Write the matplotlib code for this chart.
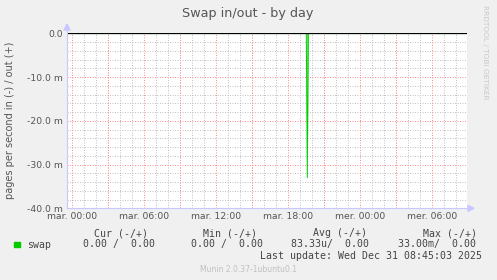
import matplotlib
matplotlib.use('Agg')
import matplotlib.pyplot as plt
import matplotlib.dates as mdates
from matplotlib.lines import Line2D
from matplotlib.patches import Polygon
import pandas as pd

# swap in (drawn negative) samples, pages per second; everything else is 0
sample_times = ['2025-12-30 00:00', '2025-12-30 19:30', '2025-12-30 19:35',
                '2025-12-30 19:40', '2025-12-31 08:45']
swap_in = [0.0, 0.0, 0.033, 0.0, 0.0]
swap_out = [0.0, 0.0, 0.0, 0.0, 0.0]

range_start = '2025-12-29 23:33:30'
range_end = '2025-12-31 08:53:30'

x_tick_times = ['2025-12-30 00:00', '2025-12-30 06:00', '2025-12-30 12:00',
                '2025-12-30 18:00', '2025-12-31 00:00', '2025-12-31 06:00']
x_tick_labels = ['mar. 00:00', 'mar. 06:00', 'mar. 12:00',
                 'mar. 18:00', 'mer. 00:00', 'mer. 06:00']
y_ticks = [0.0, -0.01, -0.02, -0.03, -0.04]
y_tick_labels = ['0.0', '-10.0 m', '-20.0 m', '-30.0 m', '-40.0 m']

legend_headers = ['Cur (-/+)', 'Min (-/+)', 'Avg (-/+)', 'Max (-/+)']
legend_values = ['0.00 /  0.00', '0.00 /  0.00', '83.33u/  0.00', '33.00m/  0.00']

W, H = 497, 280
bg = '#f0f0f0'
txt = '#555555'
mono = 'DejaVu Sans Mono'

fig = plt.figure(figsize=(W / 100, H / 100), dpi=100, facecolor=bg)
# plot area in pixels: x 67..467, y 33.3..208.3
ax = fig.add_axes([67 / W, (H - 208.3) / H, 400 / W, 175 / H])
ax.set_facecolor('white')

t = pd.to_datetime(sample_times)
vals = [-v for v in swap_in]
ax.plot(t, swap_out, color='#00cc00', lw=0.8, zorder=3)
ax.fill_between(t, vals, 0, color='#7ae27a', lw=0, zorder=3)
ax.plot(t, vals, color='#00cc00', lw=0.7, zorder=4)
ax.axhline(0, color='black', lw=0.9, zorder=5)

ax.set_xlim(pd.Timestamp(range_start), pd.Timestamp(range_end))
ax.set_ylim(-0.04, 0)

# grids: minor grey every hour / 2m, major red every 3h / 10m
dots = (0, (1, 1.5))
ax.xaxis.set_minor_locator(mdates.HourLocator(interval=1))
ax.yaxis.set_minor_locator(plt.MultipleLocator(0.002))
ax.grid(which='minor', color='#c2c2c2', lw=0.72, ls=dots)
major_x = pd.date_range('2025-12-30 00:00', '2025-12-31 09:00', freq='3h')
for mx in major_x:
    ax.axvline(mx, color='#ff9090', lw=0.72, ls=dots, zorder=2)
for my in y_ticks:
    ax.axhline(my, color='#ff9090', lw=0.72, ls=dots, zorder=2)

ax.set_xticks(pd.to_datetime(x_tick_times))
ax.set_xticklabels(x_tick_labels)
ax.set_yticks(y_ticks)
ax.set_yticklabels(y_tick_labels)
ax.tick_params(which='both', length=0, labelsize=6.7, labelcolor=txt, pad=3)
for s in ax.spines.values():
    s.set_visible(False)

# axis lines with arrows
axis_col = '#c8c8ff'
fig.add_artist(Line2D([67 / W, 67 / W], [(H - 208.3) / H, (H - 25) / H],
                      color=axis_col, lw=0.8, transform=fig.transFigure))
fig.add_artist(Line2D([67 / W, 471 / W], [(H - 208.3) / H, (H - 208.3) / H],
                      color=axis_col, lw=0.8, transform=fig.transFigure))
fig.add_artist(Polygon([[64 / W, (H - 30) / H], [70 / W, (H - 30) / H], [67 / W, (H - 24) / H]],
                       closed=True, color=axis_col, transform=fig.transFigure))
fig.add_artist(Polygon([[468 / W, (H - 205.3) / H], [468 / W, (H - 211.3) / H], [474 / W, (H - 208.3) / H]],
                       closed=True, color=axis_col, transform=fig.transFigure))

fig.text(248 / W, 1 - 13 / H, 'Swap in/out - by day', ha='center', va='center',
         fontsize=9.2, color=txt)
fig.text(10 / W, 1 - 120 / H, 'pages per second in (-) / out (+)', rotation=90,
         ha='center', va='center', fontsize=7, color=txt)
fig.text(485 / W, 1 - 5 / H, 'RRDTOOL / TOBI OETIKER', rotation=270,
         ha='center', va='top', fontsize=5.3, color='#c8c8c8')

# legend block
head_x = [94, 203, 313, 423]
val_x = [83, 191, 291, 398]
for hx, h in zip(head_x, legend_headers):
    fig.text(hx / W, 1 - 233 / H, h, ha='left', va='center', fontsize=7.1,
             family=mono, color='#444444')
fig.add_artist(plt.Rectangle((14 / W, 1 - 247 / H), 5.5 / W, 5.5 / H,
                             color='#00cc00', transform=fig.transFigure))
fig.text(26.7 / W, 1 - 244.5 / H, 'swap', ha='left', va='center', fontsize=7.1,
         family=mono, color='#444444')
for vx, v in zip(val_x, legend_values):
    fig.text(vx / W, 1 - 244.5 / H, v, ha='left', va='center', fontsize=7.1,
             family=mono, color='#444444')
fig.text(482 / W, 1 - 256 / H, 'Last update: Wed Dec 31 08:45:03 2025', ha='right',
         va='center', fontsize=7.1, family=mono, color='#444444')
fig.text(248 / W, 1 - 269 / H, 'Munin 2.0.37-1ubuntu0.1', ha='center', va='center',
         fontsize=5.5, color='#c0c0c0')

fig.savefig('out.png', dpi=100, facecolor=bg)
